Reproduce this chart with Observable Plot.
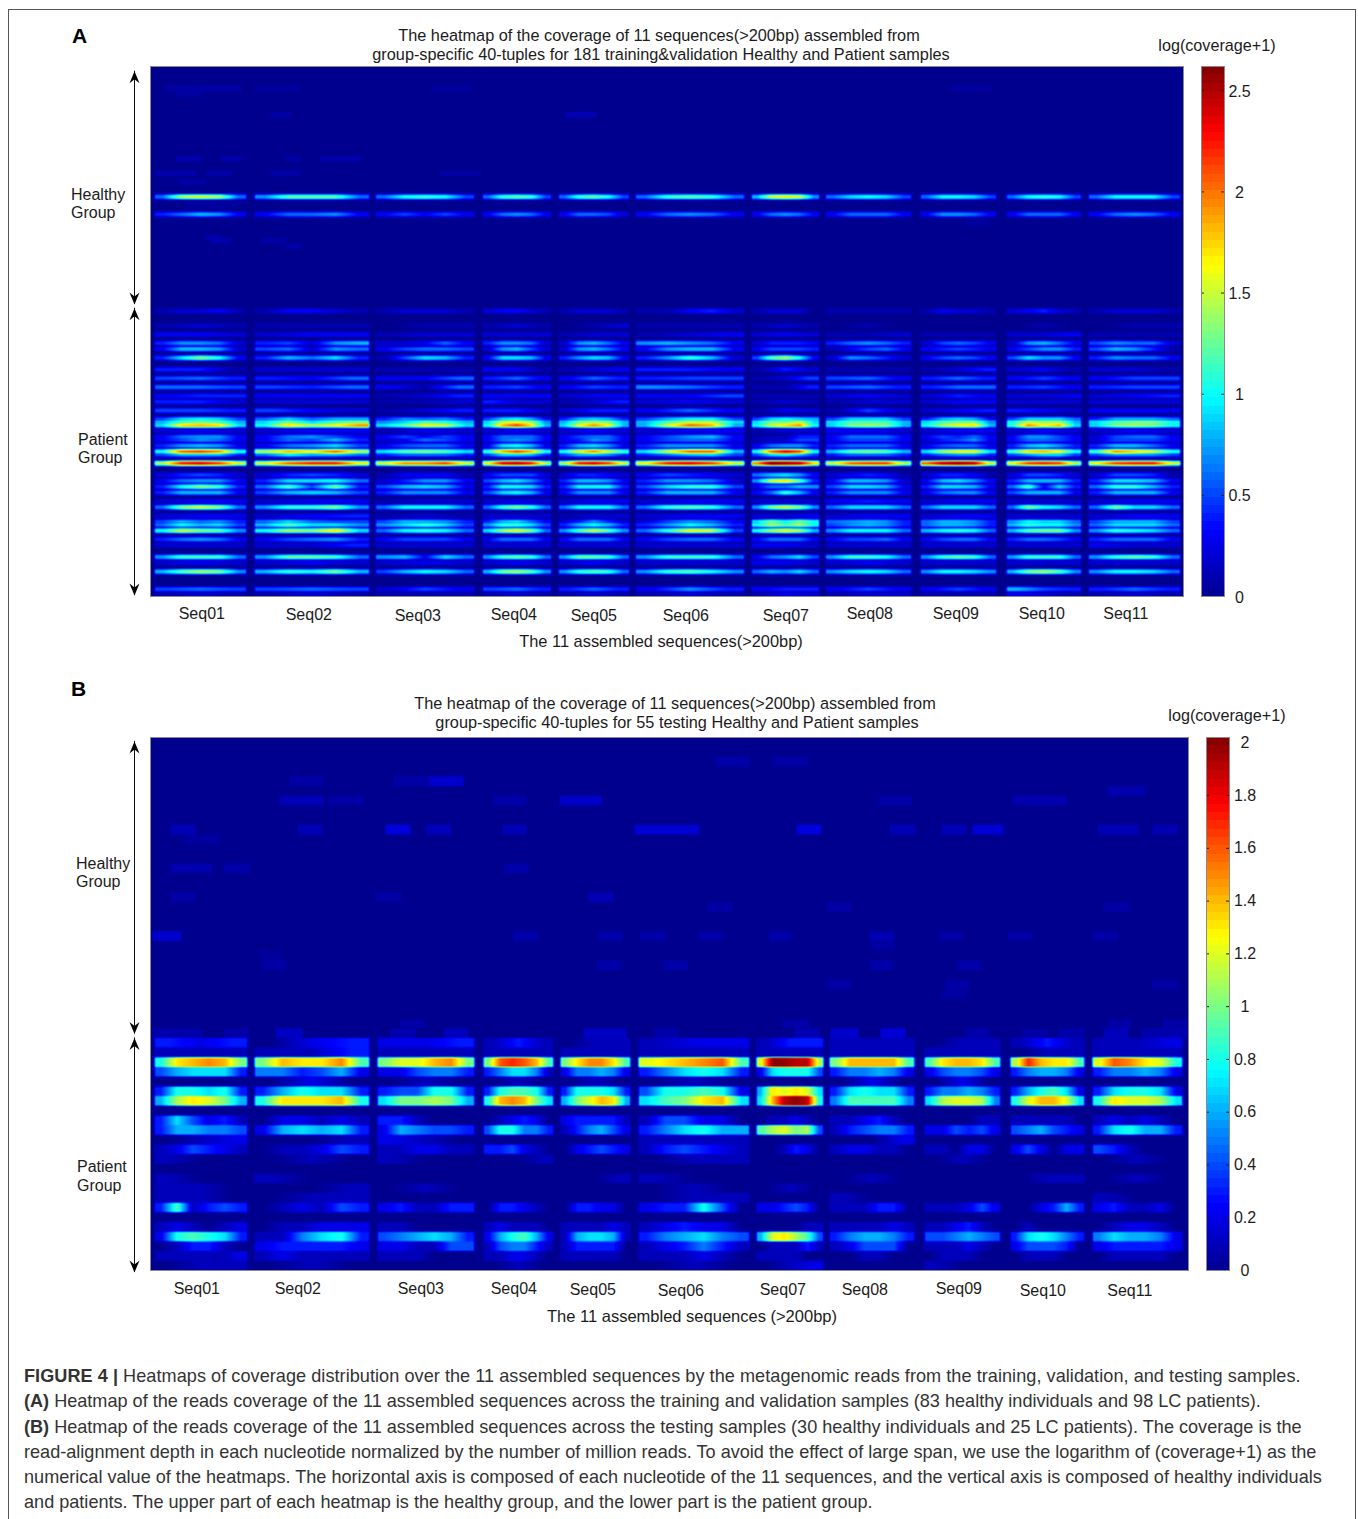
<!DOCTYPE html>
<html><head><meta charset="utf-8">
<script src="https://cdn.jsdelivr.net/npm/d3@7"></script>
<script src="https://cdn.jsdelivr.net/npm/@observablehq/plot@0.6"></script>
<style>
html,body{margin:0;padding:0;background:#fff;}
#page{position:relative;width:1358px;height:1519px;overflow:hidden;font-family:"Liberation Sans",Arial,sans-serif;color:#1c1c1c;}
#border{position:absolute;left:8px;top:9px;width:1348px;height:1600px;border:1px solid #555;box-sizing:border-box;}
.t{position:absolute;font-size:16px;line-height:18px;white-space:nowrap;}
.c{transform:translateX(-50%);text-align:center;}
.abs{position:absolute;left:0;top:0;overflow:visible!important;}
#caption{position:absolute;left:24px;top:1364px;font-size:18.1px;line-height:25.3px;color:#333;white-space:nowrap;}
#caption span{letter-spacing:0.05px;}
</style></head><body>
<div id="page"><div id="border"></div></div>
<script>
// ---------- labels ----------
const seqNames = ["Seq01","Seq02","Seq03","Seq04","Seq05","Seq06","Seq07","Seq08","Seq09","Seq10","Seq11"];
const seqLabelXA = [202,309,418,514,594,686,786,870,956,1042,1126];
const seqLabelRowA = [186.8,187.2,187.5,187.2,187.5,187.5,187.5,186.8,186.8,186.8,186.8];
const seqLabelXB = [197,298,421,514,593,681,783,865,959,1043,1130];
const seqLabelRowB = [56.9,56.9,56.9,56.9,57,57.1,57,57,56.9,57.1,57.1];
// ---------- sequence spans along the concatenated horizontal axis ----------
const seqStartA = [152,252,373,480,556,633,749,823,918,1004,1086];
const seqEndA   = [247,370,475,552,630,745,820,912,997,1082,1181];
const seqStartB = [152,252,375,481,558,636,754,827,922,1008,1090];
const seqEndB   = [248,370,475,554,631,750,824,915,1001,1085,1183];
// ---------- colour bars ----------
const maxA = 2.62, maxB = 2.02;
const ticksA = [0,0.5,1,1.5,2,2.5];
const ticksB = [0,0.2,0.4,0.6,0.8,1,1.2,1.4,1.6,1.8,2];
const jetStops = [0,0.125,0.375,0.625,0.875,1];
const jetColors = ["#00008f","#0000ff","#00ffff","#ffff00","#ff0000","#800000"];
// ---------- panel A: log(coverage+1) x 10, per row, per sequence, along the sequence ----------
const heatA = [
[44,[[6,14,15,14,6],[7,12,12,12,6],[6,10,11,10,5],[6,11,12,11,5],[6,11,12,10,5],[6,11,12,11,6],[8,15,16,15,7],[6,9,10,9,5],[6,10,10,9,5],[6,10,11,10,5],[6,10,10,10,5]]],
[50,[[4,6,8,7,3],[3,6,6,7,3],[3,5,3,5,3],[3,6,7,6,3],[3,6,6,5,2],[3,6,7,6,3],[3,6,7,6,3],[3,6,6,6,3],[3,7,7,6,3],[3,6,6,6,3],[3,6,7,6,3]]],
[83,[[1,2,2,3,1],[1,3,3,2,1],[1,2,2,2,1],[2,3,3,2,1],[1,2,2,2,1],[1,1,3,4,2],[1,2,2,2,0],[1,1,1,1,1],[1,3,2,2,1],[2,3,4,2,1],[1,2,2,2,1]]],
[88,[[1,2,1],[1,1,1],[0,1,1],[1,2,1],[0,1,2],[1,1,1],[1,2,1],[0,1,0],[0,0,0],[0,1,0],[0,1,1]]],
[91,[[3,3,2],[2,3,3],[1,2,2],[2,2,2],[1,2,2],[1,2,3],[2,3,2],[1,1,2],[1,1,1],[2,2,3],[1,1,1]]],
[94,[[4,7,7,6,2],[4,5,2,7,8],[2,2,3,6,3],[4,7,7,6,2],[2,7,8,6,3],[7,8,7,6,3],[2,4,4,4,3],[4,6,7,6,4],[2,5,6,5,3],[2,7,8,6,3],[5,7,6,6,2]]],
[96,[[3,8,8,7,2],[5,6,2,7,6],[3,5,6,6,5],[2,7,8,5,2],[2,7,8,6,3],[3,7,8,8,3],[3,5,5,5,4],[1,3,5,6,3],[3,4,5,4,3],[3,5,7,7,4],[5,8,7,4,1]]],
[99,[[4,9,13,10,3],[4,8,6,9,4],[1,5,9,8,4],[3,9,9,8,3],[4,7,9,8,3],[4,7,11,8,2],[5,12,14,10,3],[2,7,6,4,2],[3,5,6,5,3],[5,9,7,7,3],[4,7,6,6,3]]],
[103,[[4,4,1],[2,2,2],[1,1,1],[3,3,1],[1,2,3],[4,4,3],[1,4,2],[1,1,1],[1,2,4],[2,3,1],[2,2,1]]],
[106,[[5,6,4],[4,3,6],[3,3,6],[4,6,3],[3,6,4],[4,5,5],[1,2,5],[5,6,3],[4,6,4],[3,5,3],[3,5,5]]],
[109,[[6,6,5],[5,4,6],[3,1,6],[4,5,3],[3,5,4],[7,6,4],[1,1,4],[5,6,4],[4,6,6],[4,5,3],[4,5,5]]],
[112,[[3,4,4],[3,3,3],[1,2,4],[3,3,3],[2,3,3],[3,3,5],[1,1,1],[2,3,2],[2,4,3],[2,2,3],[2,3,4]]],
[114,[[4,4,2],[2,2,2],[1,1,2],[4,2,2],[1,2,4],[2,3,2],[1,2,1],[1,2,2],[2,3,3],[2,2,2],[2,2,2]]],
[117,[[5,5,4],[5,3,2],[1,2,4],[4,4,2],[2,4,4],[3,6,3],[1,3,2],[1,5,2],[2,3,4],[4,3,2],[3,3,3]]],
[120,[[5,9,10,9,5],[6,9,6,8,8],[4,7,6,7,4],[5,9,10,8,3],[4,8,9,8,4],[5,8,10,10,5],[5,9,10,9,8],[5,9,9,9,5],[4,8,9,8,3],[5,9,9,9,6],[4,8,8,8,6]]],
[121,[[8,12,13,12,8],[9,13,9,12,13],[7,9,12,11,8],[9,15,16,14,7],[8,13,14,13,8],[8,12,15,15,9],[9,13,13,15,9],[9,12,12,12,8],[9,12,13,13,7],[10,15,14,14,8],[9,12,13,13,10]]],
[122,[[9,17,18,17,9],[10,17,14,16,19],[9,12,16,15,9],[10,18,21,17,8],[9,16,19,16,8],[8,15,20,18,8],[10,15,17,19,10],[9,13,14,13,8],[10,14,16,17,8],[11,19,16,18,9],[9,13,14,13,10]]],
[124,[[2,3,2],[2,3,3],[1,3,2],[2,3,2],[2,3,2],[2,3,3],[1,2,2],[3,3,2],[2,3,3],[2,3,2],[2,3,2]]],
[126,[[3,6,7,7,3],[3,6,7,5,3],[3,5,3,5,3],[3,6,6,6,3],[3,5,6,6,3],[3,5,7,8,3],[1,1,1,4,4],[3,6,6,6,3],[3,5,4,6,3],[3,7,7,5,3],[2,5,6,6,3]]],
[127,[[3,5,7,6,3],[3,6,5,8,4],[2,3,6,5,3],[3,6,7,6,3],[3,4,7,6,3],[3,5,6,6,3],[1,2,2,5,5],[3,5,5,5,3],[2,4,5,7,3],[3,6,6,5,3],[2,5,5,5,3]]],
[129,[[4,7,8,7,3],[3,6,7,9,5],[3,5,6,6,3],[3,9,10,8,3],[4,8,9,7,3],[4,7,7,7,3],[3,6,7,7,4],[4,6,6,6,3],[3,5,6,6,3],[4,8,9,7,4],[4,8,8,6,3]]],
[131,[[10,20,21,19,10],[14,18,16,20,14],[9,12,13,12,9],[11,18,21,18,10],[10,16,19,15,11],[9,15,20,20,8],[10,20,23,21,10],[8,12,13,12,8],[9,14,16,16,9],[11,17,18,16,10],[11,19,17,15,10]]],
[132,[[5,8,8,8,4],[6,10,8,8,6],[4,6,6,6,4],[5,9,9,8,4],[5,8,8,7,4],[4,6,8,9,5],[5,9,10,8,5],[4,6,6,6,4],[4,6,7,7,4],[5,7,9,9,5],[5,7,7,7,5]]],
[135,[[14,22,23,21,15],[15,20,22,22,16],[15,19,19,21,15],[16,23,24,22,14],[14,22,23,21,15],[16,22,23,21,15],[19,26,25,24,17],[15,20,21,21,14],[20,24,25,24,15],[16,21,22,21,14],[16,21,22,22,15]]],
[139,[[2,4,5,4,2],[2,4,5,4,2],[1,3,3,3,1],[3,5,5,5,2],[2,4,4,3,2],[3,5,4,3,2],[6,8,9,7,3],[2,3,4,3,1],[2,4,4,3,1],[2,5,5,4,2],[2,5,5,4,1]]],
[141,[[3,6,7,7,3],[4,9,9,10,6],[2,4,7,7,3],[5,8,9,7,3],[4,8,8,7,3],[4,7,7,6,2],[7,15,17,12,4],[3,8,8,7,2],[3,8,9,7,3],[4,8,8,8,4],[4,9,9,8,3]]],
[143,[[4,10,13,11,4],[6,12,5,13,4],[5,8,9,8,3],[4,10,10,9,4],[4,10,10,10,4],[5,9,11,11,5],[3,6,6,8,7],[5,9,9,8,3],[4,9,9,8,3],[6,12,3,9,4],[6,11,11,8,4]]],
[145,[[4,8,8,8,3],[5,8,9,8,5],[4,7,7,7,3],[5,9,10,8,3],[3,7,7,7,3],[4,8,8,8,3],[3,6,11,8,3],[4,7,7,7,3],[3,6,7,7,3],[5,8,8,8,3],[4,8,8,8,3]]],
[148,[[2,3,3],[2,3,3],[1,2,2],[2,3,2],[2,3,3],[2,3,3],[2,2,2],[3,4,3],[2,3,3],[2,2,2],[2,3,3]]],
[150,[[6,13,15,13,6],[7,11,11,13,7],[6,10,10,10,6],[6,11,13,11,6],[6,10,10,10,6],[6,11,12,11,6],[7,13,15,13,7],[6,9,9,9,6],[6,9,9,9,6],[6,13,10,9,6],[6,13,9,9,6]]],
[153,[[2,3,3],[2,3,4],[1,2,1],[2,2,2],[1,2,2],[2,3,3],[2,2,3],[2,3,3],[2,3,3],[2,2,2],[2,3,3]]],
[155,[[5,8,6,7,4],[6,9,6,5,5],[5,8,8,7,4],[4,8,9,6,3],[2,4,7,4,2],[2,5,7,6,3],[9,13,10,13,10],[6,7,8,7,4],[6,8,8,7,4],[7,10,9,9,6],[5,8,8,8,5]]],
[156,[[6,10,8,9,5],[8,12,9,9,7],[7,9,11,9,5],[7,11,11,9,5],[4,8,10,8,4],[4,7,10,8,4],[10,14,12,14,10],[5,7,8,7,4],[6,8,8,7,4],[8,11,10,10,7],[6,9,9,9,6]]],
[158,[[10,15,13,12,7],[10,14,13,17,9],[6,10,11,10,6],[9,14,16,13,6],[7,12,15,12,7],[6,11,16,15,5],[10,14,16,14,8],[7,10,10,10,6],[8,10,11,10,6],[8,12,13,13,7],[7,11,10,9,6]]],
[161,[[4,6,7,6,3],[3,5,6,7,4],[3,5,5,5,3],[3,6,6,6,3],[3,6,6,6,3],[3,5,6,6,3],[3,6,6,6,3],[3,5,5,6,3],[3,5,6,6,3],[4,6,6,5,3],[4,6,6,6,3]]],
[163,[[2,2,2],[2,2,4],[2,2,2],[2,2,2],[2,2,2],[2,2,2],[3,3,2],[2,2,2],[2,2,2],[2,2,2],[3,2,2]]],
[167,[[7,11,11,11,6],[7,12,12,11,6],[7,8,3,9,6],[7,11,12,11,6],[7,12,12,11,6],[7,11,11,11,6],[3,6,7,9,5],[7,11,11,10,6],[7,11,12,11,6],[7,11,11,11,6],[7,11,12,11,6]]],
[169,[[2,3,2],[2,3,2],[2,3,2],[2,3,2],[2,3,2],[2,2,2],[3,3,2],[2,3,2],[2,2,2],[2,2,2],[2,2,2]]],
[172,[[8,12,14,13,7],[8,11,10,13,8],[5,8,10,9,6],[8,13,14,12,7],[7,11,12,11,6],[7,11,12,10,7],[6,8,7,9,6],[7,9,10,9,6],[7,10,10,9,7],[8,13,14,12,7],[7,10,10,9,6]]],
[178,[[5,6,5],[5,6,5],[2,5,3],[5,6,4],[4,6,4],[3,7,4],[3,4,4],[3,5,3],[3,5,3],[8,5,4],[4,6,4]]],
[180,[[1,2,1],[1,2,1],[1,1,1],[1,2,1],[1,2,1],[1,2,1],[1,3,2],[1,2,2],[1,1,1],[3,2,1],[1,2,1]]]
];
// faint isolated patches: row, start, end, value
const patchesA = [[7,165,240,.08],[7,255,300,.06],[7,430,470,.06],[7,950,990,.06],[9,175,200,.06],[16,270,290,.08],[16,565,595,.12],[31,175,200,.1],[31,220,240,.1],[31,285,300,.08],[31,320,360,.1],[36,155,195,.1],[36,205,230,.08],[36,270,300,.08],[36,440,480,.06],[39,178,205,.08],[47,185,240,.05],[58,205,220,.1],[59,210,230,.1],[59,260,285,.08],[61,285,300,.08],[53,965,990,.06]];
// ---------- panel B ----------
const heatB = [
[31,[[3,2,3],[0,2,3],[2,2,3],[1,3,1],[0,1,1],[1,2,2],[1,3,3],[1,1,1],[0,1,1],[1,3,1],[1,1,2]]],
[32,[[1,1,1],[1,1,3],[1,1,1],[1,1,1],[1,1,1],[1,1,1],[1,1,1],[1,1,1],[1,1,1],[0,1,1],[1,1,1]]],
[33,[[8,13,14,15,14,10],[10,14,13,13,15,9],[10,12,12,14,15,10],[10,16,17,16,14,9],[10,13,15,15,13,9],[12,13,14,15,16,9],[12,20,20,19,19,11],[10,14,14,14,14,9],[9,13,14,14,13,9],[11,17,14,13,13,9],[12,16,15,13,12,8]]],
[34,[[4,6,7,7,7,3],[5,5,3,4,6,2],[2,2,4,5,5,3],[3,5,7,7,5,1],[2,5,5,6,5,2],[3,5,7,8,7,3],[2,7,8,8,8,4],[3,5,5,6,5,2],[2,4,5,5,4,2],[3,5,6,6,5,2],[3,5,5,6,5,2]]],
[35,[[0,0,0],[0,2,0],[0,1,0],[0,1,0],[0,1,0],[0,1,0],[0,0,0],[0,2,0],[0,2,0],[0,0,0],[0,0,0]]],
[36,[[3,8,8,7,8,3],[3,6,8,7,7,3],[3,4,4,8,8,3],[3,8,9,9,8,3],[3,8,8,8,7,3],[4,8,8,9,8,2],[6,13,12,13,12,7],[3,7,8,7,7,3],[3,5,5,6,5,3],[3,6,8,9,7,2],[3,7,8,8,7,2]]],
[37,[[6,11,13,12,10,6],[8,13,13,13,14,8],[7,10,10,11,10,6],[8,14,15,14,10,7],[6,10,12,14,13,6],[7,9,10,13,14,7],[7,14,19,20,19,8],[5,9,9,9,9,5],[7,11,12,12,11,5],[8,12,14,14,12,7],[8,13,12,12,11,7]]],
[39,[[3,7,4,2,3,1],[0,2,2,1,2,1],[3,3,1,0,0,0],[0,1,2,3,2,0],[2,3,3,3,3,1],[1,4,4,2,2,0],[0,1,1,2,1,0],[1,1,2,3,1,0],[0,0,0,0,1,1],[1,1,1,1,1,0],[1,2,1,2,1,0]]],
[40,[[3,6,6,5,5,4],[2,6,7,6,7,3],[2,6,5,4,4,3],[4,8,8,5,5,3],[1,3,5,6,4,2],[3,5,7,8,6,6],[9,11,12,10,11,4],[1,3,4,5,5,3],[2,2,4,3,4,2],[4,5,6,4,3,2],[3,7,8,6,6,3]]],
[41,[[0,1,2],[0,0,1],[2,1,0],[0,0,0],[0,0,0],[1,1,1],[0,0,0],[0,0,2],[0,0,0],[0,0,0],[0,0,0]]],
[42,[[1,2,4,3,2,1],[0,1,1,2,4,3],[1,1,2,2,1,1],[3,3,4,2,1,0],[0,2,3,4,3,2],[1,3,4,3,2,1],[0,0,1,3,2,0],[1,2,2,1,1,0],[1,1,0,2,2,0],[2,4,2,0,2,2],[4,3,1,0,0,0]]],
[43,[[1,0,0],[0,1,0],[1,0,0],[0,0,1],[0,0,0],[0,1,1],[0,0,0],[0,0,0],[0,1,0],[0,0,0],[0,1,0]]],
[45,[[1,0,0],[1,0,0],[0,0,0],[0,0,0],[0,0,1],[1,0,0],[0,0,0],[0,1,0],[0,0,0],[0,1,1],[0,1,0]]],
[46,[[1,1,0],[0,0,1],[0,1,0],[0,0,0],[0,0,0],[0,1,0],[0,1,0],[0,0,0],[0,0,0],[0,0,0],[0,0,0]]],
[47,[[1,1,0],[0,1,1],[0,0,0],[0,0,0],[0,0,0],[0,1,1],[0,0,0],[1,0,0],[0,0,0],[0,0,0],[1,0,0]]],
[48,[[3,9,1,3,4,3],[0,1,2,1,4,3],[2,3,1,1,3,3],[0,3,3,2,1,0],[0,3,3,2,2,0],[2,3,3,8,4,0],[2,2,3,4,3,0],[1,1,1,3,3,0],[1,1,1,2,4,2],[0,0,2,3,6,3],[2,3,1,1,2,0]]],
[50,[[1,2,1,0,1,2],[0,1,1,2,2,2],[1,1,0,0,0,0],[1,2,1,1,1,0],[1,1,1,1,2,1],[1,2,3,2,2,0],[0,0,0,0,1,1],[1,1,1,1,2,1],[1,1,2,3,1,0],[0,1,0,0,0,0],[0,1,2,2,1,0]]],
[51,[[2,8,9,8,7,3],[1,1,5,7,8,3],[4,5,6,7,6,3],[2,6,8,9,6,2],[1,6,7,7,6,1],[3,5,6,7,5,4],[6,12,13,11,9,4],[3,5,6,6,5,3],[4,4,5,6,5,4],[3,7,8,7,5,3],[5,7,6,6,5,2]]],
[52,[[0,1,3,3,1,0],[2,3,3,3,3,2],[2,2,1,1,4,4],[1,4,5,5,3,1],[1,3,3,3,3,0],[1,2,3,5,3,1],[0,1,1,1,3,1],[1,2,4,4,4,0],[1,1,1,2,1,0],[2,4,4,4,3,0],[2,3,3,3,3,2]]],
[53,[[1,1,1,1,1,2],[1,2,1,1,1,1],[1,1,1,0,0,0],[1,1,2,2,1,0],[1,1,1,1,1,0],[1,1,1,2,1,0],[1,1,1,1,0,0],[0,0,1,1,0,0],[0,1,1,1,0,0],[0,1,1,1,0,0],[0,1,1,1,1,0]]],
[54,[[0,1,1],[0,1,0],[0,0,0],[0,1,0],[0,0,0],[0,1,0],[0,1,2],[0,0,0],[1,0,0],[0,0,0],[0,0,0]]]
];
const patchesB = [[2,715,748,.06],[2,772,806,.05],[4,289,322,.05],[4,393,427,.05],[4,429,462,.14],[5,1107,1144,.07],[6,279,322,.09],[6,328,362,.05],[6,493,525,.06],[6,559,600,.13],[6,878,911,.06],[6,1012,1065,.07],
[9,170,194,.09],[9,297,321,.09],[9,385,409,.18],[9,426,450,.1],[9,502,525,.09],[9,634,698,.15],[9,796,820,.18],[9,889,914,.09],[9,941,965,.09],[9,972,1002,.16],[9,1097,1137,.09],[9,1152,1176,.08],[10,184,218,.04],
[13,170,211,.07],[13,224,248,.06],[13,504,527,.06],[16,170,194,.05],[16,375,400,.05],[16,588,612,.09],[17,707,732,.05],[17,826,850,.05],[17,1103,1128,.05],
[20,152,180,.14],[20,513,537,.06],[20,598,621,.06],[20,640,664,.06],[20,698,721,.06],[20,769,791,.06],[20,869,893,.08],[20,938,961,.05],[20,1007,1031,.05],[20,1092,1117,.05],[21,870,893,.04],[22,258,281,.03],
[23,262,285,.05],[23,596,620,.06],[23,663,686,.06],[23,869,892,.06],[23,957,980,.06],[25,826,850,.05],[25,945,968,.05],[25,1152,1176,.05],[26,941,965,.04],
[29,400,424,.05],[29,782,808,.05],[29,1107,1130,.05],[29,1162,1186,.05],[30,152,201,.06],[30,224,248,.05],[30,275,301,.12],[30,390,414,.07],[30,443,467,.1],[30,583,625,.12],[30,654,677,.06],[30,794,818,.08],[30,830,857,.14],[30,880,904,.16],[30,965,988,.06],[30,1022,1046,.05],[30,1058,1083,.06],[30,1103,1127,.1],[30,1141,1186,.07]];
// ---------- arrows, in row units ----------
const arrowsA = [{x:134,from:1.6,to:81.3},{x:134,from:82.6,to:180.7}];
const arrowsB = [{x:134,from:0.4,to:30.6},{x:134,from:31,to:55.2}];

const page = document.getElementById("page");
// Value-space sampler handed to Plot.raster; the colours come from Plot's colour scale.
function makeSampler({rows,patches,starts,ends,left,right,nRows,edgePx,ySharp,plateau,reach}){
  const W = right-left+1, lines = new Array(nRows+1).fill(null);
  const line = r => lines[r] || (lines[r] = new Float32Array(W));
  rows.forEach(([row,seqs]) => { const L=line(row); seqs.forEach((bins,s) => {
    const w=(ends[s]-starts[s])/bins.length;
    for(let px=starts[s];px<=ends[s];px++){
      const pos=(px-starts[s])/w-0.5;
      let v;
      if(pos<=0) v=bins[0]; else if(pos>=bins.length-1) v=bins[bins.length-1];
      else {const i=Math.floor(pos),f=pos-i; v=bins[i]*(1-f)+bins[i+1]*f;}
      const d=Math.min(px-starts[s],ends[s]-px);
      L[px-left]=v/10*Math.min(1,d/edgePx);
    }
  });});
  patches.forEach(([row,x1,x2,v])=>{const L=line(row);for(let px=x1;px<=Math.min(x2,right);px++)L[px-left]=Math.max(L[px-left],v);});
  const empty=new Float32Array(W);
  if(reach) return (x,y)=>{ // thin rows: flat core with a soft falling edge
    const xi=Math.max(0,Math.min(W-1,Math.floor(x-left)));
    const c=Math.floor(y); let best=0;
    for(let r=c-2;r<=c+2;r++){
      const L=lines[r]; if(!L) continue;
      const d=Math.abs(y-r-0.5);
      const k=d<=plateau?1:Math.max(0,1-(d-plateau)/(reach-plateau));
      best=Math.max(best,L[xi]*k);
    }
    return best;
  };
  return (x,y)=>{
    const xi=Math.max(0,Math.min(W-1,Math.floor(x-left)));
    const ry=y-0.5, r0=Math.floor(ry); let f=ry-r0;
    f = Math.max(0,Math.min(1,(f-0.5)*ySharp+0.5));
    const a=(lines[r0]||empty)[xi], b=(lines[r0+1]||empty)[xi];
    return a*(1-f)+b*f;
  };
}
const arrowHead = {draw(c){c.moveTo(0,0);c.lineTo(5,12);c.lineTo(0,8);c.lineTo(-5,12);c.closePath();}};

function panel({top,left,right,ptop,pbottom,nRows,max,sampler,labelX,labelRow,arrows,height}){
  const plot = Plot.plot({
    width:1358, height, marginLeft:left, marginRight:1358-right, marginTop:ptop-top, marginBottom:height-(pbottom-top),
    style:{fontFamily:"Liberation Sans, Arial, sans-serif",fontSize:"16px",background:"transparent",color:"#1c1c1c"},
    x:{domain:[left,right],axis:null},
    y:{domain:[0,nRows],reverse:true,axis:null},
    color:{type:"linear",domain:jetStops.map(t=>t*max),range:jetColors,interpolate:"rgb"},
    marks:[
      Plot.raster({x1:left,x2:right,y1:0,y2:nRows,fill:sampler,pixelSize:1}),
      Plot.frame({stroke:"#8a8a8a",strokeWidth:1}),
      Plot.text(seqNames,{x:(d,i)=>labelX[i],y:(d,i)=>labelRow[i],text:d=>d,fontSize:16,fill:"#1c1c1c",dx:-0.7}),
      Plot.ruleX(arrows,{x:"x",y1:"from",y2:"to",stroke:"#111",strokeWidth:1}),
      Plot.dot(arrows,{x:"x",y:"from",symbol:arrowHead,fill:"#000",stroke:null}),
      Plot.dot(arrows,{x:"x",y:"to",symbol:arrowHead,rotate:180,fill:"#000",stroke:null})
    ]
  });
  plot.classList.add("abs"); plot.style.top = top+"px";
  page.appendChild(plot);
}
function colorbar({top,left,right,height,max,ticks,labelX,labelDy}){
  const levels = d3.range(64);
  const plot = Plot.plot({
    width:right-left+70, height:height, marginLeft:0, marginRight:70, marginTop:0, marginBottom:0,
    style:{fontFamily:"Liberation Sans, Arial, sans-serif",fontSize:"16px",background:"transparent",color:"#1c1c1c"},
    x:{domain:[left,right],axis:null},
    y:{domain:[0,max],axis:null},
    color:{type:"linear",domain:jetStops.map(t=>t*max),range:jetColors,interpolate:"rgb"},
    marks:[
      Plot.rect(levels,{x1:left,x2:right,y1:d=>d/64*max,y2:d=>(d+1)/64*max,fill:d=>(d+.5)/64*max,shapeRendering:"crispEdges"}),
      Plot.ruleY(ticks,{x1:left,x2:left+3,y:d=>d,stroke:"#222",strokeWidth:1}),
      Plot.ruleY(ticks,{x1:right-3,x2:right,y:d=>d,stroke:"#222",strokeWidth:1}),
      Plot.frame({stroke:"#8a8a8a",strokeWidth:1}),
      Plot.text(ticks,{x:labelX,y:d=>d,dy:labelDy,text:d=>String(d),fontSize:16,fill:"#1c1c1c"})
    ]
  });
  plot.classList.add("abs"); plot.style.left = left+"px"; plot.style.top = top+"px";
  page.appendChild(plot);
}
panel({top:0,left:150,right:1183,ptop:66,pbottom:596,nRows:181,max:maxA,height:660,
  sampler:makeSampler({rows:heatA,patches:patchesA,starts:seqStartA,ends:seqEndA,left:150,right:1183,nRows:181,edgePx:3,plateau:0.35,reach:1.35}),
  labelX:seqLabelXA,labelRow:seqLabelRowA,arrows:arrowsA});
panel({top:670,left:150,right:1188,ptop:737,pbottom:1270,nRows:55,max:maxB,height:665,
  sampler:makeSampler({rows:heatB,patches:patchesB,starts:seqStartB,ends:seqEndB,left:150,right:1188,nRows:55,edgePx:3,ySharp:5}),
  labelX:seqLabelXB,labelRow:seqLabelRowB,arrows:arrowsB});
colorbar({top:66,left:1201,right:1224,height:530,max:maxA,ticks:ticksA,labelX:1239,labelDy:1});
colorbar({top:737,left:1206,right:1229,height:533,max:maxB,ticks:ticksB,labelX:1244.5,labelDy:0});

const texts = [
 ["A",72,27,"b"],["B",71,680,"b"],
 ["The heatmap of the coverage of 11 sequences(>200bp) assembled from",659,26.4,"c",16.3],
 ["group-specific 40-tuples for 181 training&validation Healthy and Patient samples",661,45.4,"c",16.3],
 ["log(coverage+1)",1217,36.4,"c",16.2],
 ["Healthy",71,186,""],["Group",71,204,""],["Patient",78,431,""],["Group",78,449,""],
 ["The 11 assembled sequences(>200bp)",661,632.4,"c",16.4],
 ["The heatmap of the coverage of 11 sequences(>200bp) assembled from",675,694.4,"c",16.3],
 ["group-specific 40-tuples for 55 testing Healthy and Patient samples",677,713.4,"c",16.3],
 ["log(coverage+1)",1227,706.4,"c",16.2],
 ["Healthy",76,855,""],["Group",76,873,""],["Patient",77,1158,""],["Group",77,1177,""],
 ["The 11 assembled sequences (>200bp)",692,1307.4,"c",16.5]
];
texts.forEach(([s,x,y,k,fs])=>{
  const d=document.createElement("div"); d.className="t"+(k==="c"?" c":""); d.textContent=s;
  d.style.left=x+"px"; d.style.top=y+"px";
  if(fs) d.style.fontSize=fs+"px";
  if(k==="b"){d.style.fontWeight="bold";d.style.fontSize="21px";d.style.color="#000";}
  page.appendChild(d);
});
const cap=document.createElement("div"); cap.id="caption";
cap.innerHTML=`<span><b>FIGURE 4 |</b> Heatmaps of coverage distribution over the 11 assembled sequences by the metagenomic reads from the training, validation, and testing samples.</span><br>
<b>(A)</b> Heatmap of the reads coverage of the 11 assembled sequences across the training and validation samples (83 healthy individuals and 98 LC patients).<br>
<b>(B)</b> Heatmap of the reads coverage of the 11 assembled sequences across the testing samples (30 healthy individuals and 25 LC patients). The coverage is the<br>
read-alignment depth in each nucleotide normalized by the number of million reads. To avoid the effect of large span, we use the logarithm of (coverage+1) as the<br>
numerical value of the heatmaps. The horizontal axis is composed of each nucleotide of the 11 sequences, and the vertical axis is composed of healthy individuals<br>
and patients. The upper part of each heatmap is the healthy group, and the lower part is the patient group.`;
page.appendChild(cap);
</script>
</body></html>
